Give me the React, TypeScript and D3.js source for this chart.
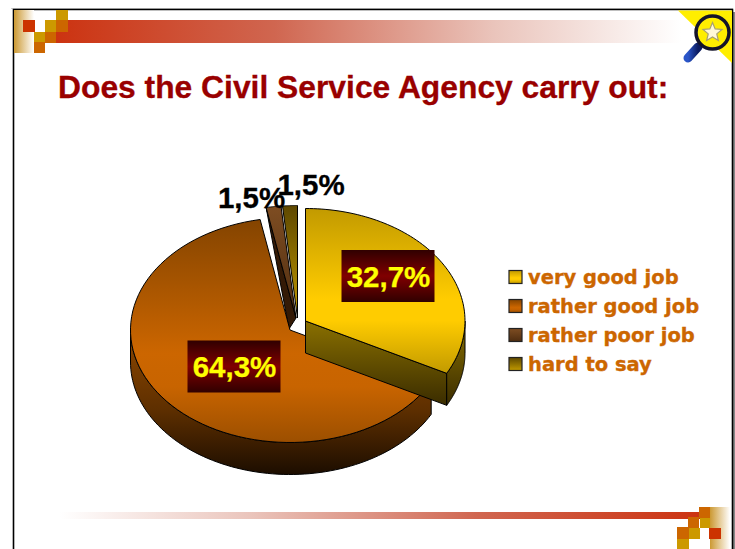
import React from "react";
import * as d3 from "d3";

// Survey answers, in percent, clockwise from twelve o'clock.
const categories = ["very good job", "rather good job", "rather poor job", "hard to say"];
const shares = [32.7, 64.3, 1.5, 1.5];
const shareLabels = ["32,7%", "64,3%", "1,5%", "1,5%"];
const titleText = "Does the Civil Service Agency carry out:";

const RX = 159.5;
const RY = 112.5;
const DEPTH = 32;
// Where each slice's apex sits once the pie is pulled apart.
const centres: [number, number][] = [[305.5, 321], [290, 330], [296, 318], [297.5, 318]];
const labelCentres: [number, number][] = [[388, 276], [234, 366.5], [251.5, 198], [311, 184.5]];
// The dark cut face of the thin slice narrows to this point where it meets the large slice.
const sliverFoot: [number, number] = [289, 329];

const angles = d3.pie<number>().sort(null).startAngle(0).endAngle(2 * Math.PI)(shares);

const project = (i: number, a: number): [number, number] => [
  centres[i][0] + RX * Math.sin(a),
  centres[i][1] - RY * Math.cos(a),
];

// Top face of a slice: apex, then the rim sampled along its ellipse.
function topFace(i: number): string {
  const { startAngle, endAngle } = angles[i];
  const rim = d3.range(0, 81).map((k) => project(i, startAngle + ((endAngle - startAngle) * k) / 80));
  return d3.line()([centres[i], ...rim])! + "Z";
}

// Outer wall of a slice between two angles of the rim.
function rimWall(i: number, a0: number, a1: number): string {
  const top = d3.range(0, 81).map((k) => project(i, a0 + ((a1 - a0) * k) / 80));
  const bottom = top.map(([x, y]) => [x, y + DEPTH] as [number, number]).reverse();
  return d3.line()([...top, ...bottom])! + "Z";
}

// Flat cut face running from the apex to the rim at one angle.
function cutWall(i: number, a: number): string {
  const [cx, cy] = centres[i];
  const [x, y] = project(i, a);
  return d3.line()([[cx, cy], [x, y], [x, y + DEPTH], [cx, cy + DEPTH]])! + "Z";
}

const SQUARE_GOLD = "#cc9900";
const SQUARE_ORANGE = "#cc6600";
const SQUARE_RED = "#cc3300";

type Sq = [number, number, number, number, string];
const topSquares: Sq[] = [
  [23, 20, 12, 12, SQUARE_RED],
  [45, 20, 11, 12, SQUARE_GOLD],
  [56, 20, 12, 12, SQUARE_ORANGE],
  [56, 10, 12, 10, SQUARE_GOLD],
  [34, 32, 11, 10, SQUARE_GOLD],
  [45, 32, 11, 11, SQUARE_ORANGE],
  [34, 42, 11, 11, SQUARE_ORANGE],
];
const bottomSquares: Sq[] = [
  [699, 507, 11, 11, SQUARE_ORANGE],
  [688, 517, 11, 11, SQUARE_ORANGE],
  [700, 518, 10, 10, SQUARE_GOLD],
  [677, 527, 12, 12, SQUARE_ORANGE],
  [689, 528, 11, 11, SQUARE_GOLD],
  [709, 528, 12, 11, SQUARE_RED],
  [677, 539, 12, 10, SQUARE_GOLD],
];

function Grad({ id, stops, x2 = 0, y2 = 1 }: { id: string; stops: [number, string][]; x2?: number; y2?: number }) {
  return (
    <linearGradient id={id} x1={0} y1={0} x2={x2} y2={y2}>
      {stops.map(([o, c]) => (
        <stop key={o} offset={o} stopColor={c} />
      ))}
    </linearGradient>
  );
}

const legendY = d3.scalePoint<string>().domain(categories).range([277, 364]);
const legendFills = ["url(#yellowTop)", "url(#orangeTop)", "url(#brownTop)", "url(#oliveTop)"];

const starPoints = d3
  .range(10)
  .map((k) => {
    const r = k % 2 ? 4.5 : 10;
    const a = (k * Math.PI) / 5;
    return `${712.5 + r * Math.sin(a)},${32.5 - r * Math.cos(a)}`;
  })
  .join(" ");

export default function App() {
  const W = 735;
  const H = 549;
  const sans = "'Liberation Sans', Arial, sans-serif";
  const yellow = angles[0];
  const orange = angles[1];
  const brown = angles[2];
  const brownRim = project(2, brown.startAngle);
  return (
    <svg
      width={W}
      height={H}
      viewBox={`0 0 ${W} ${H}`}
      style={{ position: "absolute", left: 0, top: 0, display: "block", background: "#fff" }}
    >
      <defs>
        <Grad id="barTop" x2={1} y2={0} stops={[[0, "#cc3311"], [0.35, "#d06650"], [0.7, "#eac4bb"], [1, "#ffffff"]]} />
        <Grad id="barBottom" x2={1} y2={0} stops={[[0, "#ffffff"], [0.3, "#eac4bb"], [0.65, "#d06650"], [1, "#cc3311"]]} />
        <Grad id="fadeRight" x2={1} y2={0} stops={[[0, "#cc9933"], [1, "#ffffff"]]} />
        <Grad id="yellowTop" stops={[[0, "#c29a00"], [0.55, "#ffcc00"], [0.68, "#ffcc00"], [1, "#c29a00"]]} />
        <Grad id="orangeTop" stops={[[0, "#844400"], [0.6, "#cc6600"], [0.75, "#c86400"], [1, "#9c4f00"]]} />
        <Grad id="brownTop" stops={[[0, "#7e4d22"], [1, "#4f2d10"]]} />
        <Grad id="oliveTop" stops={[[0, "#5e4800"], [1, "#c29a00"]]} />
        <Grad id="yellowWall" stops={[[0, "#8a7000"], [1, "#3a2c00"]]} />
        <Grad id="orangeWall" stops={[[0, "#8f4800"], [0.55, "#5e2f00"], [1, "#1c0d00"]]} />
        <Grad id="labelBox" stops={[[0, "#300000"], [0.5, "#800000"], [1, "#300000"]]} />
        <Grad id="handle" x2={1} y2={0} stops={[[0, "#2a55c8"], [1, "#0b1b60"]]} />
      </defs>

      {/* Slide frame and its drop shadow */}
      <rect x={733} y={12} width={2} height={537} fill="#888" />
      <rect x={11} y={8} width={722} height={1} fill="#ccc" />
      <path d="M13.5 549V9.5H732.5V549" fill="none" stroke="#000" strokeWidth={1.6} />

      {/* Header and footer ornaments */}
      <rect x={14} y={10} width={20} height={43} fill="url(#fadeRight)" />
      <rect x={56} y={20} width={625} height={23} fill="url(#barTop)" />
      {topSquares.map(([x, y, w, h, c], i) => (
        <rect key={i} x={x} y={y} width={w} height={h} fill={c} />
      ))}
      <rect x={60} y={512} width={640} height={7} fill="url(#barBottom)" />
      <rect x={710} y={507} width={20} height={42} fill="url(#fadeRight)" />
      {bottomSquares.map(([x, y, w, h, c], i) => (
        <rect key={i} x={x} y={y} width={w} height={h} fill={c} />
      ))}

      {/* Corner badge with the magnifying glass */}
      <path d="M678 10.5H732V63Z" fill="#ffee00" />
      <path d="M698 47L688 58" stroke="url(#handle)" strokeWidth={9} strokeLinecap="round" />
      <circle cx={712.5} cy={32.5} r={16.5} fill="#ffee00" stroke="#14142a" strokeWidth={3.5} />
      <polygon points={starPoints} fill="#fff8d8" stroke="#a8a070" strokeWidth={1.2} />

      <text
        x={58}
        y={98}
        fontFamily={sans}
        fontWeight={700}
        fontSize={31.8}
        fill="#990000"
        stroke="#990000"
        strokeWidth={0.3}
      >
        {titleText}
      </text>

      {/* Pie: back slivers first, then the large slice, then the pulled-out slice */}
      <path d={topFace(3)} fill="url(#oliveTop)" stroke="#000" strokeWidth={1} strokeLinejoin="round" />
      <path
        d={d3.line()([brownRim, sliverFoot, centres[2]])! + "Z"}
        fill="#341a06"
        stroke="#000"
        strokeWidth={1}
        strokeLinejoin="round"
      />
      <path d={topFace(2)} fill="url(#brownTop)" stroke="#000" strokeWidth={1} strokeLinejoin="round" />

      <path
        d={rimWall(1, orange.startAngle, 1.5 * Math.PI)}
        fill="url(#orangeWall)"
        stroke="#000"
        strokeWidth={1}
        strokeLinejoin="round"
      />
      <path d={topFace(1)} fill="url(#orangeTop)" stroke="#000" strokeWidth={1} strokeLinejoin="round" />

      <path d={cutWall(0, yellow.endAngle)} fill="url(#yellowWall)" stroke="#000" strokeWidth={1} strokeLinejoin="round" />
      <path
        d={rimWall(0, Math.PI / 2, yellow.endAngle)}
        fill="url(#yellowWall)"
        stroke="#000"
        strokeWidth={1}
        strokeLinejoin="round"
      />
      <path d={topFace(0)} fill="url(#yellowTop)" stroke="#000" strokeWidth={1} strokeLinejoin="round" />

      {/* Value labels */}
      {shareLabels.map((t, i) =>
        i < 2 ? (
          <g key={i}>
            <rect
              x={labelCentres[i][0] - 46.5}
              y={labelCentres[i][1] - 26}
              width={93}
              height={52}
              fill="url(#labelBox)"
            />
            <text
              x={labelCentres[i][0] + 0.5}
              y={labelCentres[i][1] + 10.5}
              textAnchor="middle"
              fontFamily={sans}
              fontWeight={700}
              fontSize={29.5}
              fill="#ffff00"
              stroke="#ffff00"
              strokeWidth={0.25}
            >
              {t}
            </text>
          </g>
        ) : (
          <text
            key={i}
            x={labelCentres[i][0]}
            y={labelCentres[i][1] + 10}
            textAnchor="middle"
            fontFamily={sans}
            fontWeight={700}
            fontSize={29.5}
            fill="#000"
            stroke="#000"
            strokeWidth={0.3}
          >
            {t}
          </text>
        ),
      )}

      {/* Legend */}
      {categories.map((c, i) => (
        <g key={c}>
          <rect
            x={509}
            y={legendY(c)! - 6.5}
            width={13}
            height={13}
            fill={legendFills[i]}
            stroke="#222"
            strokeWidth={1.2}
          />
          <text
            x={528}
            y={legendY(c)! + 7}
            fontFamily="'DejaVu Sans', Verdana, sans-serif"
            fontWeight={700}
            fontSize={19.5}
            fill="#cc6600"
            stroke="#cc6600"
            strokeWidth={0.35}
          >
            {c}
          </text>
        </g>
      ))}
    </svg>
  );
}
